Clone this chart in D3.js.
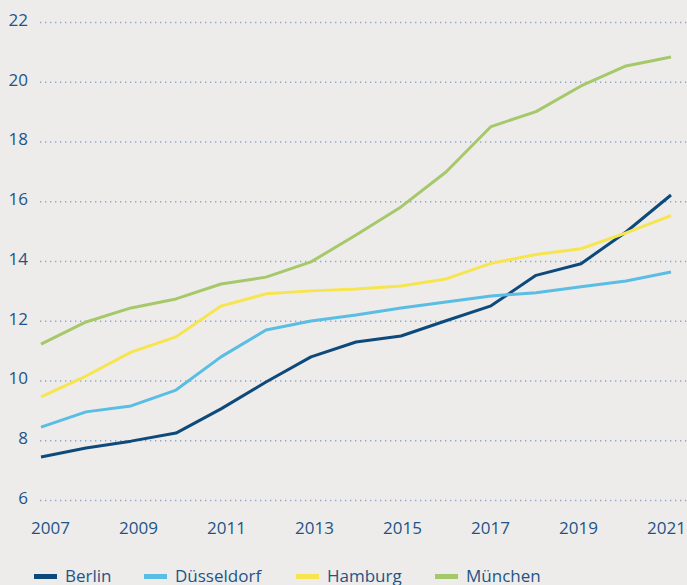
<!DOCTYPE html>
<html>
<head>
<meta charset="utf-8">
<script src="https://cdn.jsdelivr.net/npm/d3@7"></script>
<style>
  body { margin: 0; background: #edecea; }
  svg { display: block; font-family: "Open Sans", sans-serif; }
</style>
</head>
<body>
<svg id="vis-svg"></svg>
<script>
// Data
const years = [2007, 2008, 2009, 2010, 2011, 2012, 2013, 2014, 2015, 2016, 2017, 2018, 2019, 2020, 2021];
const berlin     = [7.44, 7.74, 7.97, 8.24, 9.05, 9.95, 10.79, 11.29, 11.49, 12.0, 12.5, 13.52, 13.91, 14.97, 16.21];
const duesseldorf = [8.44, 8.95, 9.15, 9.68, 10.79, 11.69, 11.99, 12.19, 12.43, 12.63, 12.83, 12.94, 13.14, 13.33, 13.63];
const hamburg    = [9.45, 10.15, 10.95, 11.46, 12.49, 12.9, 13.0, 13.06, 13.16, 13.4, 13.92, 14.22, 14.41, 14.94, 15.52];
const muenchen   = [11.22, 11.96, 12.43, 12.73, 13.23, 13.46, 13.97, 14.87, 15.81, 16.98, 18.5, 19.0, 19.86, 20.53, 20.83];
const yTicks = [6, 8, 10, 12, 14, 16, 18, 20, 22];
const xTicks = [2007, 2009, 2011, 2013, 2015, 2017, 2019, 2021];

const series = [
    { name: "Berlin", values: berlin, color: "#0d4a7b" },
    { name: "Düsseldorf", values: duesseldorf, color: "#5abde3" },
    { name: "Hamburg", values: hamburg, color: "#f6e54e" },
    { name: "München", values: muenchen, color: "#a5c86a" }
];

const W = 687, H = 585;
const textColor = "#1e5487";

const svg = d3.select("#vis-svg")
    .attr("width", W)
    .attr("height", H);

svg.append("rect").attr("width", W).attr("height", H).attr("fill", "#edecea");

// Scales
const x = d3.scaleLinear().domain([2007, 2021]).range([41, 671]);
// tick labels are spaced a little tighter than the data points
const xLabel = d3.scaleLinear().domain([2007, 2021]).range([50, 666]);
const y = d3.scaleLinear().domain([6, 22]).range([500, 22]);

// Grid lines (dotted)
const grid = svg.append("g")
    .attr("transform", "translate(40,0)")
    .call(d3.axisLeft(y).tickValues(yTicks).tickSize(-(W - 40)).tickFormat(""));
grid.select(".domain").remove();
grid.selectAll("line")
    .attr("stroke", "#8ea6cb")
    .attr("stroke-width", 1.3)
    .attr("stroke-dasharray", "1.3,3.7");

// y axis labels
const yAxis = svg.append("g")
    .attr("transform", "translate(28,-2)")
    .call(d3.axisLeft(y).tickValues(yTicks).tickSize(0).tickPadding(0));
yAxis.select(".domain").remove();
yAxis.selectAll("text")
    .attr("fill", textColor)
    .style("font-size", "17px")
    .style("font-family", "'Open Sans', sans-serif");

// x axis labels
const xAxis = svg.append("g")
    .attr("transform", "translate(0,522)")
    .call(d3.axisBottom(xLabel).tickValues(xTicks).tickFormat(d3.format("d")).tickSize(0).tickPadding(0));
xAxis.select(".domain").remove();
xAxis.selectAll("text")
    .attr("fill", textColor)
    .style("font-size", "17px")
    .style("font-family", "'Open Sans', sans-serif");

// Lines
const line = d3.line()
    .x((d, i) => x(years[i]))
    .y(d => y(d));

svg.selectAll(".city")
    .data(series)
    .enter().append("path")
    .attr("class", "city")
    .attr("d", d => line(d.values))
    .attr("fill", "none")
    .attr("stroke", d => d.color)
    .attr("stroke-width", 3)
    .attr("stroke-linejoin", "round");

// Legend
const legendX = [34, 144, 296, 435];
const legend = svg.selectAll(".legend")
    .data(series)
    .enter().append("g")
    .attr("class", "legend")
    .attr("transform", (d, i) => "translate(" + legendX[i] + ",576.5)");

legend.append("rect")
    .attr("x", 0)
    .attr("y", -2.5)
    .attr("width", 23)
    .attr("height", 5)
    .attr("fill", d => d.color);

legend.append("text")
    .attr("x", 31)
    .attr("y", 5)
    .attr("fill", textColor)
    .style("font-size", "17px")
    .text(d => d.name);
</script>
</body>
</html>
